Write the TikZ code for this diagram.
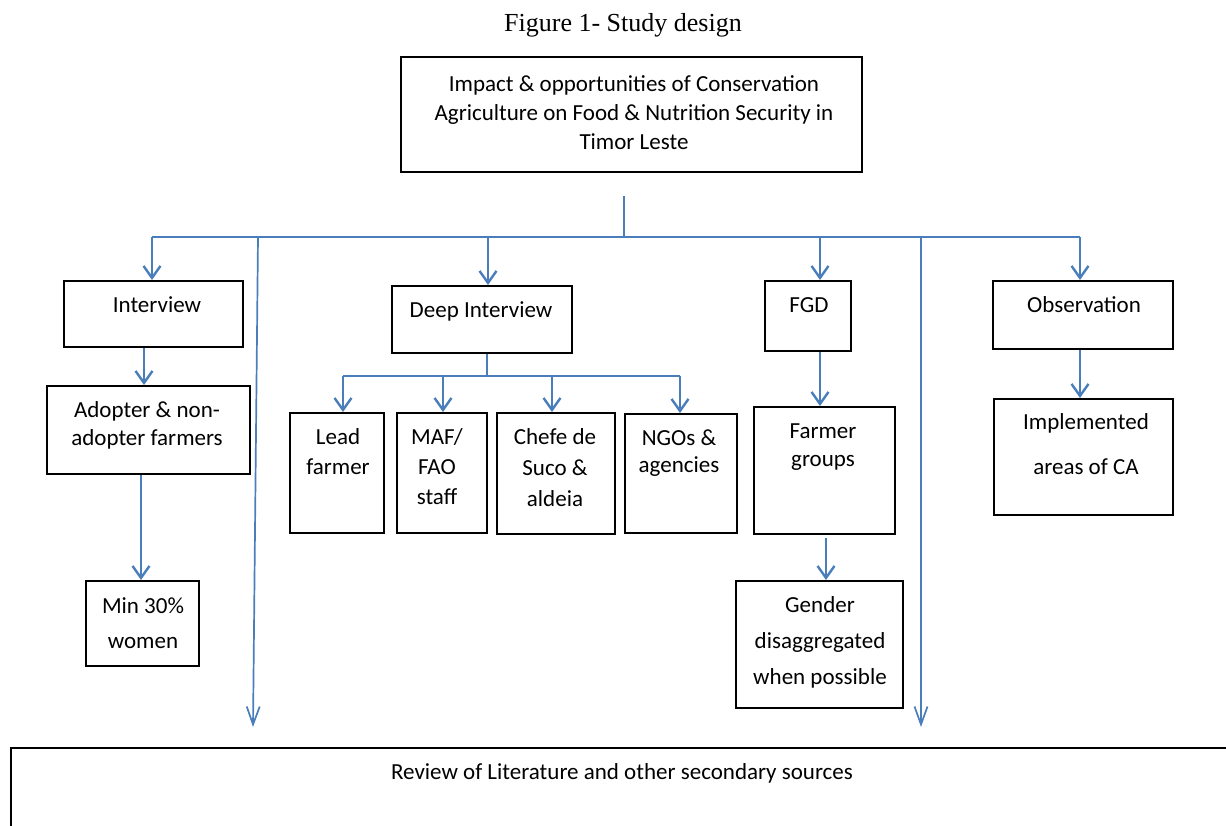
\documentclass[tikz,border=0pt]{standalone}
\usepackage{fontspec}
\setmainfont{Carlito}
\newfontfamily\timesf{Liberation Serif}
\usetikzlibrary{arrows.meta}
\definecolor{wblue}{HTML}{4A7EBB}
\begin{document}
\begin{tikzpicture}[x=1pt,y=-1pt,
 box/.style={draw=black, line width=2pt, inner sep=0pt, anchor=north west},
 txt/.style={font=\fontsize{23}{#1}\selectfont, align=center, inner sep=0pt},
 conn/.style={draw=wblue, line width=2.5pt},
 arr/.style={draw=wblue, line width=2.4pt, -{Straight Barb[length=12pt,width=17pt]}},
 longarr/.style={draw=wblue, line width=1.7pt, -{Straight Barb[length=18pt,width=13pt]}}]
\useasboundingbox (0,0) rectangle (1226,825);
\clip (0,0) rectangle (1226,825);

% title
\node[font=\timesf\fontsize{26}{28}\selectfont, inner sep=0pt] (title) at (623,25) {Figure 1- Study design};

% boxes
\node[box, minimum width=461pt, minimum height=115pt] (top) at (400,56) {};
\node[box, minimum width=179pt, minimum height=66pt] (interview) at (63,280) {};
\node[box, minimum width=203pt, minimum height=88pt] (adopter) at (46,385) {};
\node[box, minimum width=113pt, minimum height=85pt] (min) at (85,580) {};
\node[box, minimum width=180pt, minimum height=67pt] (deep) at (391,285) {};
\node[box, minimum width=94pt, minimum height=120pt] (lead) at (289,412) {};
\node[box, minimum width=90pt, minimum height=120pt] (maf) at (396,412) {};
\node[box, minimum width=118pt, minimum height=121pt] (chefe) at (496,412) {};
\node[box, minimum width=112pt, minimum height=119pt] (ngos) at (624,413) {};
\node[box, minimum width=86pt, minimum height=70pt] (fgd) at (764,280) {};
\node[box, minimum width=141pt, minimum height=127pt] (farmer) at (753,406) {};
\node[box, minimum width=167pt, minimum height=127pt] (gender) at (735,580) {};
\node[box, minimum width=180pt, minimum height=68pt] (obs) at (992,280) {};
\node[box, minimum width=179pt, minimum height=116pt] (impl) at (993,398) {};
\node[box, minimum width=1300pt, minimum height=200pt] (review) at (10,747) {};

% texts
\node[txt=29pt] (toptxt) at (634,113) {Impact \& opportunities of Conservation\\Agriculture on Food \& Nutrition Security in\\Timor Leste};
\node[txt=28pt] (interviewtxt) at (157,305) {Interview};
\node[txt=28pt] (adoptertxt) at (147,425) {Adopter \& non-\\adopter farmers};
\node[txt=35pt] (mintxt) at (143,623) {Min 30\%\\women};
\node[txt=28pt] (deeptxt) at (481,311) {Deep Interview};
\node[txt=30pt] (leadtxt) at (338,452) {Lead\\farmer};
\node[txt=30pt] (maftxt) at (437,467) {MAF/\\FAO\\staff};
\node[txt=31pt] (chefetxt) at (555,468) {Chefe de\\Suco \&\\aldeia};
\node[txt=27pt] (ngostxt) at (679,453) {NGOs \&\\agencies};
\node[txt=28pt] (fgdtxt) at (809,305) {FGD};
\node[txt=28pt] (farmertxt) at (823,447) {Farmer\\groups};
\node[txt=36pt] (gendertxt) at (820,642) {Gender\\disaggregated\\when possible};
\node[txt=28pt] (obstxt) at (1084,305) {Observation};
\node[txt=45pt] (impltxt) at (1086,444) {Implemented\\areas of CA};
\node[txt=28pt] (reviewtxt) at (622,773) {Review of Literature and other secondary sources};

% trunk and main bar
\coordinate (t0) at (624,196);
\coordinate (t1) at (624,237);
\coordinate (bl) at (152,237);
\coordinate (br) at (1080,237);
\coordinate (b2) at (488,237);
\coordinate (b3) at (820,237);
\draw[conn] (t0) -- (t1);
\draw[conn] (bl) -- (br);
\draw[arr] (bl) -- (bl |- interview.north);
\draw[arr] (b2) -- (b2 |- deep.north);
\draw[arr] (b3) -- (b3 |- fgd.north);
\draw[arr] (br) -- (br |- obs.north);

% long lines to review
\coordinate (l1) at (258,237);
\coordinate (l1e) at (253,727);
\coordinate (l2) at (921,237);
\coordinate (l2e) at (921,727);
\draw[longarr] (l1) -- (l1e);
\draw[longarr] (l2) -- (l2e);

% interview branch
\coordinate (i1) at (144,0);
\draw[arr] (i1 |- interview.south) -- (i1 |- adopter.north);
\coordinate (i2) at (141,0);
\draw[arr] (i2 |- adopter.south) -- (i2 |- min.north);

% deep interview branch
\coordinate (d1) at (487,376);
\coordinate (s1) at (343,376);
\coordinate (s2) at (443,376);
\coordinate (s3) at (552,376);
\coordinate (s4) at (680,376);
\draw[conn] (d1 |- deep.south) -- (d1);
\draw[conn] (s1) -- (s4);
\draw[arr] (s1) -- (s1 |- lead.north);
\draw[arr] (s2) -- (s2 |- maf.north);
\draw[arr] (s3) -- (s3 |- chefe.north);
\draw[arr] (s4) -- (s4 |- ngos.north);

% FGD branch
\draw[arr] (b3 |- fgd.south) -- (b3 |- farmer.north);
\coordinate (g0) at (826,538);
\draw[arr] (g0) -- (g0 |- gender.north);

% observation branch
\draw[arr] (br |- obs.south) -- (br |- impl.north);
\end{tikzpicture}
\end{document}
